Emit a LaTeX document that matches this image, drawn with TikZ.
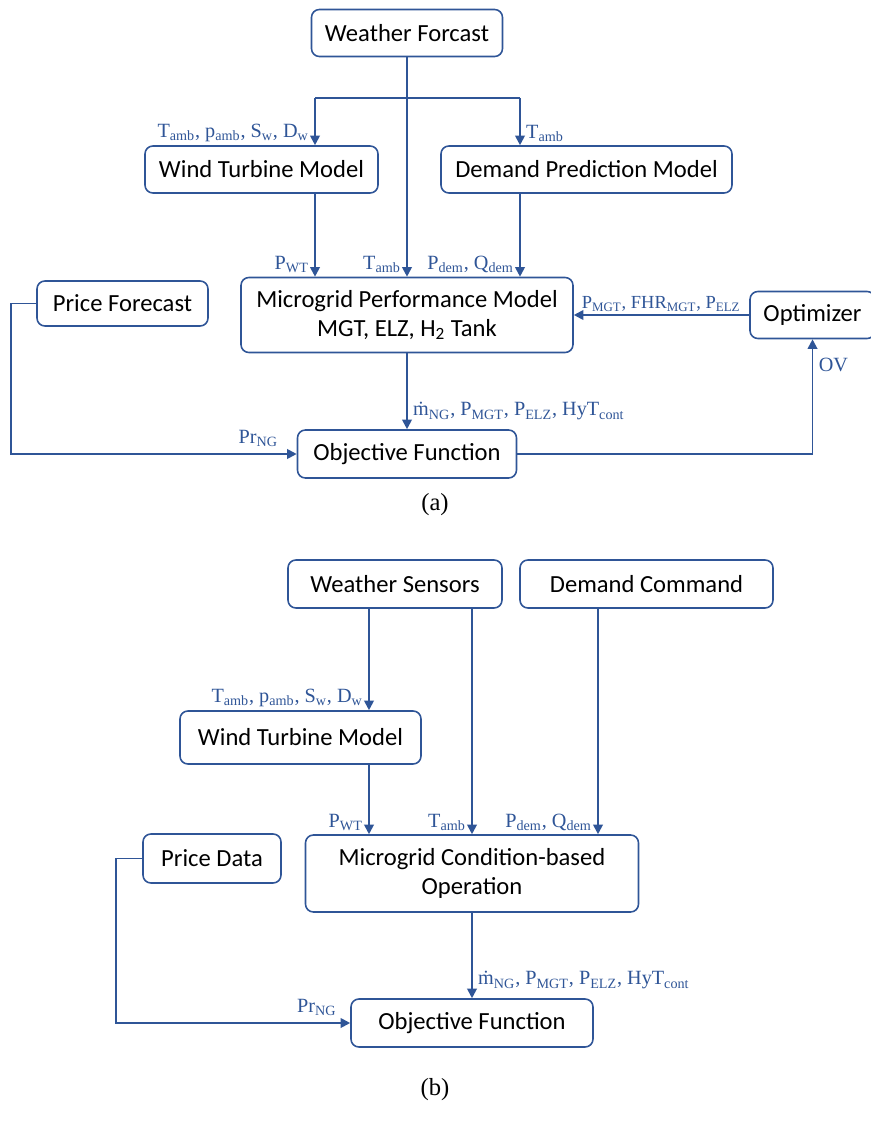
\documentclass[tikz,border=0pt]{standalone}
\usepackage{fontspec}
\setmainfont{Carlito}
\newfontfamily\labelserif{Liberation Serif}
\usetikzlibrary{arrows.meta}
\definecolor{FlowBlue}{HTML}{2F5597}
\newcommand{\sbs}[1]{\textsubscript{#1}}

\begin{document}
\begin{tikzpicture}[
  blk/.style = {draw=FlowBlue, rounded corners=4.5pt, line width=0.9pt,
                font=\fontsize{14}{16.5}\selectfont, align=center, inner sep=2pt},
  arr/.style = {-{Triangle[length=5.5pt,width=5.5pt]}, line width=1.1pt, FlowBlue},
  lnk/.style = {line width=1.1pt, FlowBlue},
  lbl/.style = {font=\labelserif\fontsize{11.5}{13}\selectfont, text=FlowBlue,
                inner xsep=3pt, inner ysep=1.5pt},
  subcap/.style = {font=\labelserif\fontsize{14}{16}\selectfont}
]
  \useasboundingbox (0,0) rectangle (17.4,-22.44);

  % (a) forecast based
  \node[blk, minimum width=3.82cm, minimum height=0.94cm] (wf)  at (8.14,-0.66) {Weather Forcast};
  \node[blk, minimum width=4.66cm, minimum height=0.94cm] (wtm) at (5.23,-3.39) {Wind Turbine Model};
  \node[blk, minimum width=5.82cm, minimum height=0.94cm] (dpm) at (11.73,-3.39) {Demand Prediction Model};
  \node[blk, minimum width=3.42cm, minimum height=0.90cm] (pf)  at (2.45,-6.07) {Price Forecast};
  \node[blk, minimum width=6.64cm, minimum height=1.50cm] (mpm) at (8.14,-6.30)
    {Microgrid Performance Model\\MGT, ELZ, H\textsubscript{2} Tank};
  \node[blk, minimum width=2.50cm, minimum height=0.94cm] (opt) at (16.25,-6.30) {Optimizer};
  \node[blk, minimum width=4.38cm, minimum height=0.96cm] (of)  at (8.14,-9.08) {Objective Function};
  \node[subcap] (capa) at (8.7,-10.1) {(a)};

  \coordinate (brL) at (6.3,-1.96);
  \coordinate (brR) at (10.4,-1.96);
  \draw[lnk] (brL) -- (brR);
  \draw[arr] (brL) -- (wtm.north -| brL)
    node[lbl, anchor=south east] {T\sbs{amb}, p\sbs{amb}, S\sbs{w}, D\sbs{w}};
  \draw[arr] (brR) -- (dpm.north -| brR) node[lbl, anchor=south west] {T\sbs{amb}};
  \draw[arr] (wf.south) -- (mpm.north) node[lbl, anchor=south east] {T\sbs{amb}};
  \draw[arr] (wtm.south -| brL) -- (mpm.north -| brL) node[lbl, anchor=south east] {P\sbs{WT}};
  \draw[arr] (dpm.south -| brR) -- (mpm.north -| brR)
    node[lbl, anchor=south east] {P\sbs{dem}, Q\sbs{dem}};
  \draw[arr] (mpm.south) -- (of.north)
    node[lbl, anchor=south west, yshift=3pt] {\.{m}\sbs{NG}, P\sbs{MGT}, P\sbs{ELZ}, HyT\sbs{cont}};
  \draw[arr] (pf.west) -- ++(-0.5,0) |- (of.west)
    node[lbl, anchor=south east, xshift=-0.25cm, yshift=2pt] {Pr\sbs{NG}};
  \draw[arr] (opt.west) -- (mpm.east)
    node[lbl, pos=0, anchor=south east, xshift=-0.05cm,
         font=\labelserif\fontsize{10.5}{12}\selectfont] {P\sbs{MGT}, FHR\sbs{MGT}, P\sbs{ELZ}};
  \draw[arr] (of.east) -| (opt.south)
    node[lbl, anchor=north west, yshift=-0.3cm] {OV};

  % (b) condition based
  \node[blk, minimum width=4.28cm, minimum height=0.96cm] (ws)   at (7.90,-11.68) {Weather Sensors};
  \node[blk, minimum width=5.06cm, minimum height=0.96cm] (dc)   at (12.93,-11.68) {Demand Command};
  \node[blk, minimum width=4.82cm, minimum height=1.06cm] (wtm2) at (6.01,-14.75) {Wind Turbine Model};
  \node[blk, minimum width=2.76cm, minimum height=0.98cm] (pd)   at (4.24,-17.17) {Price Data};
  \node[blk, minimum width=6.66cm, minimum height=1.54cm] (mco)  at (9.44,-17.47)
    {Microgrid Condition-based\\Operation};
  \node[blk, minimum width=4.84cm, minimum height=0.96cm] (of2)  at (9.44,-20.46) {Objective Function};
  \node[subcap] (capb) at (8.7,-21.8) {(b)};

  \coordinate (wx) at (7.38,0);
  \coordinate (dx) at (11.96,0);
  \draw[arr] (ws.south -| wx) -- (wtm2.north -| wx)
    node[lbl, anchor=south east] {T\sbs{amb}, p\sbs{amb}, S\sbs{w}, D\sbs{w}};
  \draw[arr] (ws.south -| mco.north) -- (mco.north) node[lbl, anchor=south east] {T\sbs{amb}};
  \draw[arr] (dc.south -| dx) -- (mco.north -| dx)
    node[lbl, anchor=south east] {P\sbs{dem}, Q\sbs{dem}};
  \draw[arr] (wtm2.south -| wx) -- (mco.north -| wx) node[lbl, anchor=south east] {P\sbs{WT}};
  \draw[arr] (mco.south) -- (of2.north)
    node[lbl, anchor=south west, yshift=3pt] {\.{m}\sbs{NG}, P\sbs{MGT}, P\sbs{ELZ}, HyT\sbs{cont}};
  \draw[arr] (pd.west) -- ++(-0.52,0) |- (of2.west)
    node[lbl, anchor=south east, xshift=-0.15cm, yshift=2pt] {Pr\sbs{NG}};
\end{tikzpicture}
\end{document}
